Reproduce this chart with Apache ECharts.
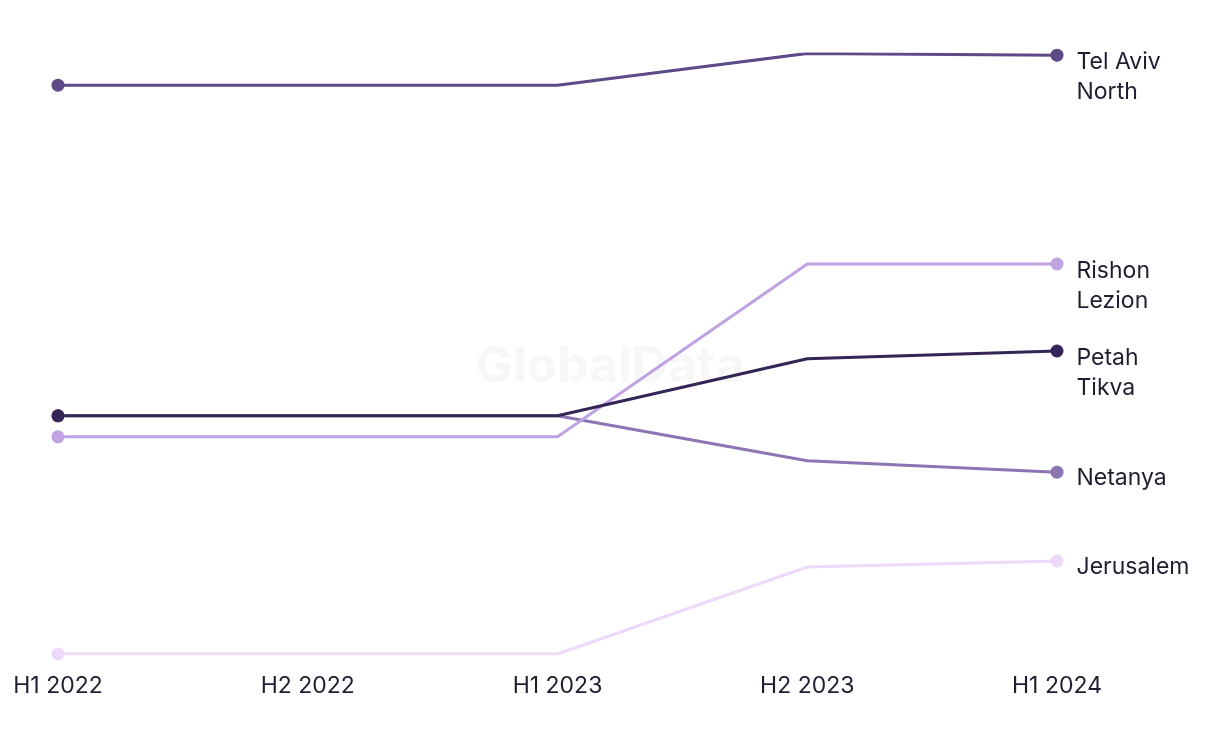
<!DOCTYPE html>
<html><head><meta charset="utf-8">
<script src="https://cdn.jsdelivr.net/npm/echarts@6/dist/echarts.min.js"></script>
<style>html,body{margin:0;padding:0;background:#fff}#c{width:1220px;height:744px}</style>
</head><body><div id="c"></div>
<script>
var categories = ['H1 2022', 'H2 2022', 'H1 2023', 'H2 2023', 'H1 2024'];
var telAvivNorth = [94.8, 94.8, 94.8, 100.1, 99.8];
var rishonLezion = [36.2, 36.2, 36.2, 65.0, 65.0];
var petahTikva = [39.7, 39.7, 39.7, 49.2, 50.5];
var netanya = [39.7, 39.7, 39.7, 32.2, 30.3];
var jerusalem = [0, 0, 0, 14.5, 15.5];

var seriesDefs = [
  {name: 'Jerusalem', label: 'Jerusalem', data: jerusalem, color: '#efd9fa', lines: 1},
  {name: 'Netanya', label: 'Netanya', data: netanya, color: '#8d74b3', lines: 1},
  {name: 'Rishon Lezion', label: 'Rishon\nLezion', data: rishonLezion, color: '#bfa3e3', lines: 2},
  {name: 'Petah Tikva', label: 'Petah\nTikva', data: petahTikva, color: '#352456', lines: 2},
  {name: 'Tel Aviv North', label: 'Tel Aviv\nNorth', data: telAvivNorth, color: '#5e4a87', lines: 2}
];

var series = seriesDefs.map(function (s) {
  var n = s.data.length;
  return {
    name: s.name,
    type: 'line',
    smooth: false,
    color: s.color,
    lineStyle: {width: 3, color: s.color},
    itemStyle: {color: s.color},
    symbol: 'circle',
    symbolSize: 13,
    animation: false,
    data: s.data.map(function (v, i) {
      var item = {value: v};
      if (i !== 0 && i !== n - 1) {
        item.symbol = 'none';
      }
      if (i === n - 1) {
        item.label = {
          show: true,
          position: 'right',
          distance: 13,
          formatter: s.label,
          color: '#1e1e30',
          fontFamily: 'Inter, Roboto, sans-serif',
          fontSize: 23,
          lineHeight: 30,
          offset: [0, s.lines === 2 ? 22 : 6]
        };
      }
      return item;
    })
  };
});

var chart = echarts.init(document.getElementById('c'), null, {renderer: 'canvas'});
chart.setOption({
  backgroundColor: '#ffffff',
  animation: false,
  graphic: [{
    type: 'text',
    left: 'center',
    top: 342,
    z: -1,
    style: {
      text: 'GlobalData',
      fill: '#f7f7f7',
      font: 'bold 50px Inter, Roboto, sans-serif'
    }
  }],
  grid: {left: 58, right: 163, top: 54, bottom: 90, containLabel: false},
  xAxis: {
    type: 'category',
    data: categories,
    boundaryGap: false,
    axisLine: {show: false},
    axisTick: {show: false},
    splitLine: {show: false},
    axisLabel: {
      color: '#1e1e30',
      fontFamily: 'Inter, Roboto, sans-serif',
      fontSize: 23,
      margin: 21
    }
  },
  yAxis: {
    type: 'value',
    min: 0,
    max: 100,
    show: false,
    splitLine: {show: false}
  },
  series: series
});
</script>
</body></html>
